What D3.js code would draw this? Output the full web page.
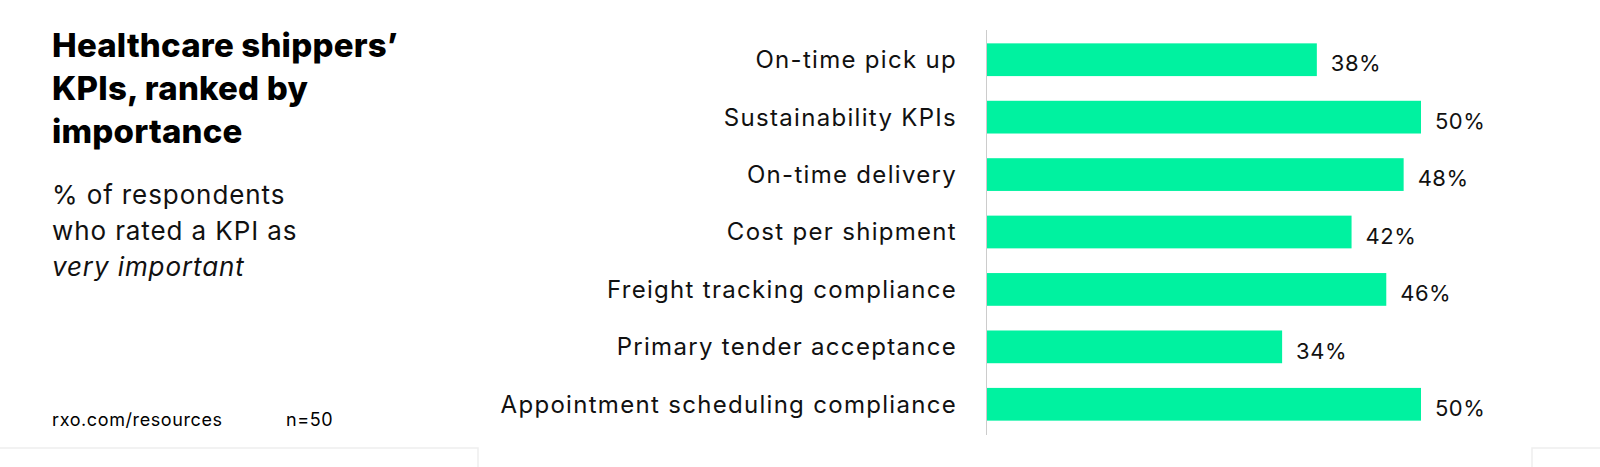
<!DOCTYPE html>
<html><head><meta charset="utf-8">
<script src="https://cdn.jsdelivr.net/npm/d3@7"></script>
<style>body{margin:0;background:#fff;font-family:Inter,"Noto Sans",sans-serif;}</style>
</head><body>
<script>
var categories = ["On-time pick up","Sustainability KPIs","On-time delivery","Cost per shipment","Freight tracking compliance","Primary tender acceptance","Appointment scheduling compliance"];
var values = [38,50,48,42,46,34,50];

var width = 1600, height = 467;
var svg = d3.select("body").append("svg").attr("width", width).attr("height", height);

// faint card borders at the bottom
svg.append("path").attr("d","M0,448H478V467").attr("fill","none").attr("stroke","#eee").attr("stroke-width",1.5);
svg.append("path").attr("d","M1532,467V448H1600").attr("fill","none").attr("stroke","#eee").attr("stroke-width",1.5);

var title = svg.append("text").attr("x",52).attr("font-weight",800).attr("font-size",33).attr("fill","#000").attr("letter-spacing",0.2);
["Healthcare shippers\u2019","KPIs, ranked by","importance"].forEach(function(t,i){
  title.append("tspan").attr("x",52).attr("y",57+i*43).text(t);
});
var sub = svg.append("text").attr("font-size",26).attr("fill","#111").attr("letter-spacing",0.9);
sub.append("tspan").attr("x",52).attr("y",204).text("% of respondents");
sub.append("tspan").attr("x",52).attr("y",240).text("who rated a KPI as");
sub.append("tspan").attr("x",52).attr("y",276).attr("font-style","italic").text("very important");

svg.append("text").attr("x",52).attr("y",426).attr("font-size",18).attr("letter-spacing",0.6).text("rxo.com/resources");
svg.append("text").attr("x",286).attr("y",426).attr("font-size",18).attr("letter-spacing",0.6).text("n=50");

var x = d3.scaleLinear().domain([0,50]).range([987,1421]);
var y = d3.scaleBand().domain(categories).range([29,435]).paddingInner(0.43).paddingOuter(0.25);

svg.append("line").attr("x1",986.5).attr("x2",986.5).attr("y1",30).attr("y2",435).attr("stroke","#ccc");

svg.selectAll("rect.bar").data(values).enter().append("rect").attr("class","bar")
  .attr("x",x(0)).attr("y",function(d,i){return y(categories[i]);})
  .attr("width",function(d){return x(d)-x(0);}).attr("height",y.bandwidth()).attr("fill","#00F2A0");

svg.selectAll("text.lab").data(categories).enter().append("text").attr("class","lab")
  .attr("x",957).attr("y",function(d){return y(d)+y.bandwidth()/2;}).attr("dy","0.35em")
  .attr("text-anchor","end").attr("font-size",24).attr("letter-spacing",1.3).attr("fill","#111").text(function(d){return d;});

svg.selectAll("text.val").data(values).enter().append("text").attr("class","val")
  .attr("x",function(d){return x(d)+14;}).attr("y",function(d,i){return y(categories[i])+y.bandwidth()/2+4;}).attr("dy","0.35em")
  .attr("font-size",22).attr("letter-spacing",0.5).attr("fill","#111").text(function(d){return d+"%";});
</script>
</body></html>
